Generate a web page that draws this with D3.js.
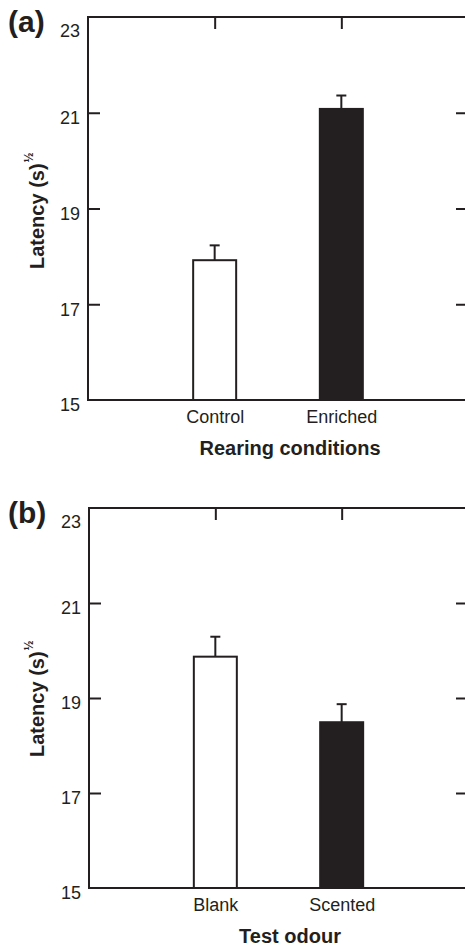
<!DOCTYPE html>
<html>
<head>
<meta charset="utf-8">
<script src="https://cdn.jsdelivr.net/npm/d3@7"></script>
<style>
  html, body { margin: 0; padding: 0; background: #fff; }
  svg { display: block; }
  text { font-family: "Liberation Sans", Arial, Helvetica, sans-serif; fill: #231f20; }
</style>
</head>
<body>
<svg id="chart" width="465" height="947"></svg>
<script>
// ---- Data ----
const panelLetters = ["(a)", "(b)"];
const categoriesA = ["Control", "Enriched"];
const meansA = [17.92, 21.08];
const errTopsA = [18.23, 21.36];
const titleA = "Rearing conditions";

const categoriesB = ["Blank", "Scented"];
const meansB = [19.87, 18.49];
const errTopsB = [20.29, 18.87];
const titleB = "Test odour";

const yTicks = [15, 17, 19, 21, 23];
const yDomain = [15, 23];
const barFills = ["#ffffff", "#231f20"];
const yLabel = "Latency (s)";
const ySup = "\u00bd";

const ink = "#231f20";
const svg = d3.select("#chart");

function panel(cfg) {
  const g = svg.append("g");
  const x = d3.scalePoint()
    .domain(["_l", ...cfg.cats, "_r"])
    .range([cfg.left, cfg.right]);
  const y = d3.scaleLinear().domain(yDomain).range([cfg.bottom, cfg.top]);
  const barW = 43;

  // bars
  g.selectAll("rect.bar").data(cfg.cats).join("rect")
    .attr("class", "bar")
    .attr("x", d => x(d) - barW / 2)
    .attr("width", barW)
    .attr("y", (d, i) => y(cfg.means[i]))
    .attr("height", (d, i) => y(yDomain[0]) - y(cfg.means[i]))
    .attr("fill", (d, i) => barFills[i])
    .attr("stroke", ink)
    .attr("stroke-width", 2);

  // error bars
  g.selectAll("line.err").data(cfg.cats).join("line")
    .attr("class", "err")
    .attr("x1", d => x(d)).attr("x2", d => x(d))
    .attr("y1", (d, i) => y(cfg.means[i]))
    .attr("y2", (d, i) => y(cfg.errs[i]))
    .attr("stroke", ink).attr("stroke-width", 2);
  g.selectAll("line.cap").data(cfg.cats).join("line")
    .attr("class", "cap")
    .attr("x1", d => x(d) - 5).attr("x2", d => x(d) + 5)
    .attr("y1", (d, i) => y(cfg.errs[i]))
    .attr("y2", (d, i) => y(cfg.errs[i]))
    .attr("stroke", ink).attr("stroke-width", 2);

  // frame
  g.append("rect")
    .attr("x", cfg.left).attr("y", cfg.top)
    .attr("width", cfg.right - cfg.left)
    .attr("height", cfg.bottom - cfg.top)
    .attr("fill", "none").attr("stroke", ink).attr("stroke-width", 2);

  // left axis
  const la = g.append("g").attr("transform", `translate(${cfg.left},0)`)
    .call(d3.axisLeft(y).tickValues(yTicks).tickSize(-12).tickPadding(8));
  la.select(".domain").remove();
  la.selectAll(".tick line").attr("stroke", ink).attr("stroke-width", 2);
  la.selectAll(".tick line").filter(d => d === 15 || d === 23).remove();
  la.selectAll(".tick text")
    .attr("font-size", 18).attr("fill", ink)
    .attr("dy", d => d === yDomain[1] ? "1.1em" : "0.6em");

  // right axis
  const ra = g.append("g").attr("transform", `translate(${cfg.right},0)`)
    .call(d3.axisRight(y).tickValues([17, 19, 21]).tickSize(-12).tickFormat(""));
  ra.select(".domain").remove();
  ra.selectAll(".tick line").attr("stroke", ink).attr("stroke-width", 2);

  // top axis
  const ta = g.append("g").attr("transform", `translate(0,${cfg.top})`)
    .call(d3.axisTop(x).tickValues(cfg.cats).tickSize(-12).tickFormat(""));
  ta.select(".domain").remove();
  ta.selectAll(".tick line").attr("stroke", ink).attr("stroke-width", 2);

  // bottom axis labels
  const ba = g.append("g").attr("transform", `translate(0,${cfg.bottom})`)
    .call(d3.axisBottom(x).tickValues(cfg.cats).tickSize(0).tickPadding(10));
  ba.select(".domain").remove();
  ba.selectAll(".tick text")
    .attr("font-size", 18).attr("fill", ink);

  // x title
  g.append("text")
    .attr("x", 290).attr("y", cfg.bottom + 55)
    .attr("text-anchor", "middle")
    .attr("font-size", 20).attr("font-weight", "bold")
    .text(cfg.title);

  // y title
  const yt = g.append("text")
    .attr("transform", `translate(44,${cfg.bottom - 131}) rotate(-90)`)
    .attr("text-anchor", "start")
    .attr("font-size", 20).attr("font-weight", "bold");
  yt.append("tspan").text(yLabel);
  yt.append("tspan").attr("font-size", 12).attr("dy", -11).attr("dx", 1).text(ySup);

  // panel letter
  g.append("text")
    .attr("x", 8).attr("y", cfg.top + 15)
    .attr("font-size", 30).attr("font-weight", "bold")
    .text(cfg.letter);
}

panel({ letter: panelLetters[0], cats: categoriesA, means: meansA, errs: errTopsA, title: titleA,
        left: 88, right: 468, top: 17, bottom: 400 });
panel({ letter: panelLetters[1], cats: categoriesB, means: meansB, errs: errTopsB, title: titleB,
        left: 89, right: 468, top: 508, bottom: 888 });
</script>
</body>
</html>
